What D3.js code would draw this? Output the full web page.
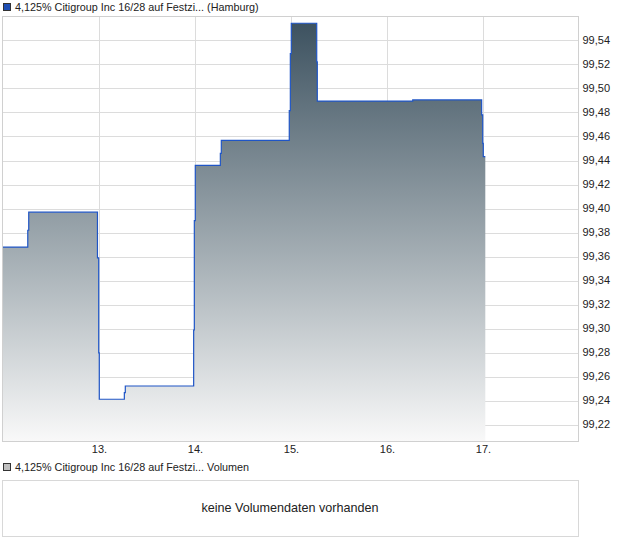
<!DOCTYPE html>
<html><head><meta charset="utf-8">
<script src="https://cdn.jsdelivr.net/npm/d3@7/dist/d3.min.js"></script>
<style>
html,body{margin:0;padding:0;background:#fff;}
svg{display:block;font-family:"Liberation Sans",Arial,sans-serif;}
</style></head>
<body><svg id="c" width="620" height="546"></svg>
<script>
// Data (time in days of the month, value in %)
const times = [12.000, 12.258, 12.268, 12.984, 12.997, 13.003, 13.264, 13.274, 13.986, 13.993, 14.003, 14.264, 14.274, 14.982, 14.993, 15.003, 15.268, 15.274, 16.268, 16.986, 16.997, 17.003, 17.024];
const prices = [99.368, 99.382, 99.397, 99.359, 99.280, 99.2414, 99.2469, 99.2524, 99.299, 99.390, 99.436, 99.446, 99.4568, 99.4815, 99.529, 99.5542, 99.522, 99.4895, 99.4904, 99.478, 99.4543, 99.4432, 99.4432];
const xTickValues = [13, 14, 15, 16, 17];
const xTickLabels = ["13.", "14.", "15.", "16.", "17."];
const yTickValues = [99.22, 99.24, 99.26, 99.28, 99.30, 99.32, 99.34, 99.36, 99.38, 99.40, 99.42, 99.44, 99.46, 99.48, 99.50, 99.52, 99.54];
const seriesTitle = "4,125% Citigroup Inc 16/28 auf Festzi... (Hamburg)";
const volumeTitle = "4,125% Citigroup Inc 16/28 auf Festzi... Volumen";
const volumeMessage = "keine Volumendaten vorhanden";

const data = times.map((t, i) => ({t, v: prices[i]}));
const svg = d3.select("#c");
const L = 2.5, R = 578.5, T = 16.5, B = 441.5;
const x = d3.scaleLinear().domain([12, 18]).range([3, 579]);
const y = d3.scaleLinear().domain([99.2064, 99.56]).range([441.3, 16.3]);

// header
svg.append("rect").attr("x", 3.5).attr("y", 3.5).attr("width", 7).attr("height", 7)
  .attr("fill", "#1f4fb4").attr("stroke", "#333").attr("stroke-width", 1);
svg.append("text").attr("x", 15).attr("y", 11).attr("font-size", 10.8).attr("fill", "#222").text(seriesTitle);

// grid
const g = svg.append("g");
g.selectAll("line.h").data(yTickValues).join("line")
  .attr("x1", L).attr("x2", R)
  .attr("y1", d => Math.round(y(d)) + 0.5).attr("y2", d => Math.round(y(d)) + 0.5)
  .attr("stroke", "#dcdcdc");
g.selectAll("line.v").data(xTickValues).join("line")
  .attr("x1", d => Math.round(x(d)) + 0.5).attr("x2", d => Math.round(x(d)) + 0.5)
  .attr("y1", T).attr("y2", B).attr("stroke", "#dcdcdc");

// gradient
const defs = svg.append("defs");
const grad = defs.append("linearGradient").attr("id", "ag")
  .attr("gradientUnits", "userSpaceOnUse")
  .attr("x1", 0).attr("x2", 0).attr("y1", y(d3.max(prices))).attr("y2", B);
grad.append("stop").attr("offset", 0).attr("stop-color", "#3d5260");
grad.append("stop").attr("offset", 0.55).attr("stop-color", "#a3adb3");
grad.append("stop").attr("offset", 1).attr("stop-color", "#f9f9f9");

const area = d3.area().curve(d3.curveStepAfter)
  .x(d => x(d.t)).y0(B).y1(d => y(d.v));
const line = d3.line().curve(d3.curveStepAfter)
  .x(d => x(d.t)).y(d => y(d.v));

svg.append("path").datum(data).attr("d", area).attr("fill", "url(#ag)");
svg.append("path").datum(data).attr("d", line).attr("fill", "none")
  .attr("stroke", "#1f55c6").attr("stroke-width", 1.2);

// border
svg.append("rect").attr("x", L).attr("y", T).attr("width", R - L).attr("height", B - T)
  .attr("fill", "none").attr("stroke", "#d0d0d0");

// axes labels
const xAxis = d3.axisBottom(x).tickValues(xTickValues).tickSize(0)
  .tickFormat((d, i) => xTickLabels[i]);
const xa = svg.append("g").attr("transform", `translate(0,${B})`).call(xAxis);
xa.select(".domain").remove();
xa.selectAll("text").attr("font-size", 11).attr("fill", "#222").attr("dy", "1em")
  .attr("font-family", "Liberation Sans, Arial, sans-serif").attr("y", 0);

const yAxis = d3.axisRight(y).tickValues(yTickValues).tickSize(0)
  .tickFormat(d => d3.format(".2f")(d).replace(".", ","));
const ya = svg.append("g").attr("transform", `translate(${R},0)`).call(yAxis);
ya.select(".domain").remove();
ya.selectAll("text").attr("font-size", 11).attr("fill", "#222").attr("x", 4)
  .attr("font-family", "Liberation Sans, Arial, sans-serif").attr("dy", "0.25em");

// volume panel
svg.append("rect").attr("x", 3.5).attr("y", 463.5).attr("width", 7).attr("height", 7)
  .attr("fill", "#c0c0c0").attr("stroke", "#333");
svg.append("text").attr("x", 15).attr("y", 471).attr("font-size", 10.8).attr("fill", "#222").text(volumeTitle);
svg.append("rect").attr("x", 2.5).attr("y", 480.5).attr("width", 576).attr("height", 56)
  .attr("fill", "none").attr("stroke", "#d8d8d8");
svg.append("text").attr("x", 290).attr("y", 511.5).attr("text-anchor", "middle")
  .attr("font-size", 12.6).attr("fill", "#222").text(volumeMessage);
</script></body></html>
